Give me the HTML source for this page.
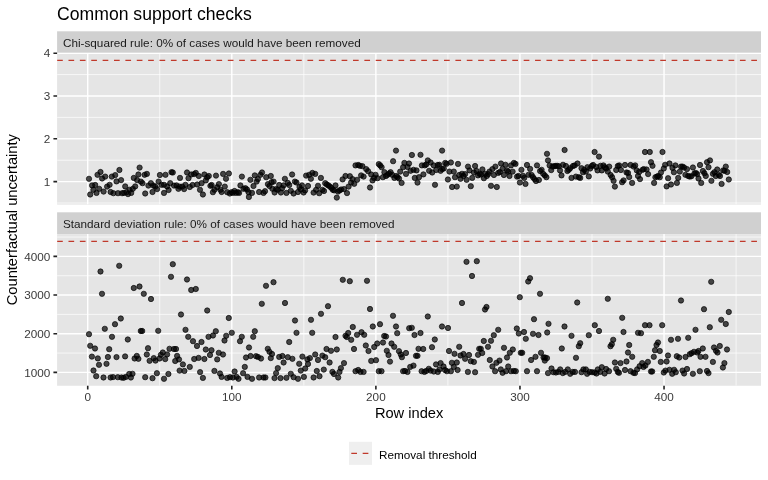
<!DOCTYPE html>
<html lang="en"><head><meta charset="utf-8"><title>Common support checks</title>
<style>html,body{margin:0;padding:0;background:#fff}body{width:768px;height:480px;overflow:hidden}svg{display:block;will-change:transform}text{font-family:"Liberation Sans",Arial,Helvetica,sans-serif}.ax{font-size:11.73px;fill:#3A3A3A}.st{font-size:11.73px;fill:#1A1A1A}.ti{font-size:14.67px;fill:#000}.gM{stroke:#fff;stroke-width:1.42;fill:none}.gm{stroke:#fff;stroke-width:0.71;fill:none}.tk{stroke:#222;stroke-width:1.6;fill:none}.th{stroke:#C0392B;stroke-width:1.35;stroke-dasharray:5.69 5.69;fill:none}.p circle{fill:#000;fill-opacity:0.7;stroke:#000;stroke-opacity:0.7;stroke-width:0.94}</style></head><body>
<svg width="768" height="480" viewBox="0 0 768 480">
<rect width="768" height="480" fill="#fff"/>
<text x="57.1" y="20.3" font-size="17.6" fill="#000">Common support checks</text>
<rect x="57.1" y="31.3" width="703.9" height="21.50" fill="#D0D0D0"/>
<rect x="57.1" y="52.8" width="703.9" height="151.80" fill="#E5E5E5"/>
<clipPath id="c1"><rect x="57.1" y="52.8" width="703.9" height="151.80"/></clipPath>
<g clip-path="url(#c1)">
<path class="gm" d="M57.1 203.00H761.0M57.1 160.20H761.0M57.1 117.40H761.0M57.1 74.60H761.0M159.76 52.8V204.6M303.84 52.8V204.6M447.92 52.8V204.6M592.00 52.8V204.6M736.08 52.8V204.6"/>
<path class="gM" d="M57.1 181.60H761.0M57.1 138.80H761.0M57.1 96.00H761.0M57.1 53.20H761.0M87.72 52.8V204.6M231.80 52.8V204.6M375.88 52.8V204.6M519.96 52.8V204.6M664.04 52.8V204.6"/>
<g class="p">
<circle cx="89.0" cy="178.8" r="2.65"/>
<circle cx="90.2" cy="194.5" r="2.65"/>
<circle cx="92.1" cy="185.4" r="2.65"/>
<circle cx="93.4" cy="189.8" r="2.65"/>
<circle cx="95.2" cy="185.0" r="2.65"/>
<circle cx="96.5" cy="192.9" r="2.65"/>
<circle cx="97.5" cy="174.8" r="2.65"/>
<circle cx="99.2" cy="188.8" r="2.65"/>
<circle cx="100.5" cy="172.0" r="2.65"/>
<circle cx="102.1" cy="178.5" r="2.65"/>
<circle cx="103.6" cy="191.6" r="2.65"/>
<circle cx="105.2" cy="176.6" r="2.65"/>
<circle cx="107.1" cy="186.6" r="2.65"/>
<circle cx="109.6" cy="184.8" r="2.65"/>
<circle cx="110.6" cy="192.0" r="2.65"/>
<circle cx="111.8" cy="176.6" r="2.65"/>
<circle cx="113.4" cy="193.2" r="2.65"/>
<circle cx="115.2" cy="175.1" r="2.65"/>
<circle cx="116.5" cy="181.4" r="2.65"/>
<circle cx="118.0" cy="193.2" r="2.65"/>
<circle cx="119.4" cy="170.0" r="2.65"/>
<circle cx="121.1" cy="180.1" r="2.65"/>
<circle cx="122.1" cy="193.2" r="2.65"/>
<circle cx="124.0" cy="192.9" r="2.65"/>
<circle cx="125.2" cy="186.4" r="2.65"/>
<circle cx="126.5" cy="192.2" r="2.65"/>
<circle cx="128.0" cy="194.1" r="2.65"/>
<circle cx="129.6" cy="189.8" r="2.65"/>
<circle cx="131.2" cy="192.9" r="2.65"/>
<circle cx="132.8" cy="188.8" r="2.65"/>
<circle cx="133.8" cy="177.9" r="2.65"/>
<circle cx="135.2" cy="186.4" r="2.65"/>
<circle cx="137.1" cy="180.1" r="2.65"/>
<circle cx="138.4" cy="174.5" r="2.65"/>
<circle cx="139.6" cy="167.6" r="2.65"/>
<circle cx="140.9" cy="181.6" r="2.65"/>
<circle cx="142.5" cy="183.2" r="2.65"/>
<circle cx="144.6" cy="174.8" r="2.65"/>
<circle cx="145.2" cy="193.5" r="2.65"/>
<circle cx="146.9" cy="173.9" r="2.65"/>
<circle cx="148.4" cy="185.6" r="2.65"/>
<circle cx="150.9" cy="183.2" r="2.65"/>
<circle cx="152.5" cy="192.0" r="2.65"/>
<circle cx="153.4" cy="185.6" r="2.65"/>
<circle cx="155.2" cy="186.6" r="2.65"/>
<circle cx="157.1" cy="189.1" r="2.65"/>
<circle cx="158.6" cy="181.6" r="2.65"/>
<circle cx="159.9" cy="175.0" r="2.65"/>
<circle cx="161.5" cy="184.8" r="2.65"/>
<circle cx="164.0" cy="184.8" r="2.65"/>
<circle cx="164.0" cy="192.9" r="2.65"/>
<circle cx="165.5" cy="174.8" r="2.65"/>
<circle cx="167.1" cy="186.4" r="2.65"/>
<circle cx="168.6" cy="190.0" r="2.65"/>
<circle cx="170.2" cy="183.2" r="2.65"/>
<circle cx="171.5" cy="172.2" r="2.65"/>
<circle cx="172.8" cy="172.5" r="2.65"/>
<circle cx="174.0" cy="185.6" r="2.65"/>
<circle cx="176.5" cy="185.4" r="2.65"/>
<circle cx="178.4" cy="188.8" r="2.65"/>
<circle cx="179.6" cy="186.6" r="2.65"/>
<circle cx="180.0" cy="177.9" r="2.65"/>
<circle cx="182.2" cy="186.6" r="2.65"/>
<circle cx="184.1" cy="189.1" r="2.65"/>
<circle cx="185.4" cy="184.8" r="2.65"/>
<circle cx="187.0" cy="172.5" r="2.65"/>
<circle cx="188.5" cy="178.2" r="2.65"/>
<circle cx="189.8" cy="187.0" r="2.65"/>
<circle cx="191.2" cy="174.5" r="2.65"/>
<circle cx="192.6" cy="185.0" r="2.65"/>
<circle cx="194.1" cy="174.1" r="2.65"/>
<circle cx="195.8" cy="172.9" r="2.65"/>
<circle cx="197.2" cy="184.5" r="2.65"/>
<circle cx="198.8" cy="176.0" r="2.65"/>
<circle cx="200.0" cy="189.8" r="2.65"/>
<circle cx="201.6" cy="183.2" r="2.65"/>
<circle cx="202.9" cy="194.5" r="2.65"/>
<circle cx="204.4" cy="174.5" r="2.65"/>
<circle cx="205.8" cy="180.4" r="2.65"/>
<circle cx="207.2" cy="177.2" r="2.65"/>
<circle cx="208.8" cy="176.0" r="2.65"/>
<circle cx="210.4" cy="185.8" r="2.65"/>
<circle cx="211.6" cy="185.0" r="2.65"/>
<circle cx="212.9" cy="192.2" r="2.65"/>
<circle cx="214.5" cy="189.8" r="2.65"/>
<circle cx="216.0" cy="175.6" r="2.65"/>
<circle cx="217.2" cy="187.2" r="2.65"/>
<circle cx="218.9" cy="184.1" r="2.65"/>
<circle cx="220.4" cy="189.8" r="2.65"/>
<circle cx="221.6" cy="192.0" r="2.65"/>
<circle cx="223.1" cy="173.9" r="2.65"/>
<circle cx="224.8" cy="186.6" r="2.65"/>
<circle cx="226.0" cy="178.8" r="2.65"/>
<circle cx="227.2" cy="192.2" r="2.65"/>
<circle cx="228.9" cy="173.5" r="2.65"/>
<circle cx="229.8" cy="193.5" r="2.65"/>
<circle cx="231.6" cy="192.2" r="2.65"/>
<circle cx="232.9" cy="192.9" r="2.65"/>
<circle cx="234.5" cy="191.0" r="2.65"/>
<circle cx="236.0" cy="192.9" r="2.65"/>
<circle cx="237.9" cy="192.2" r="2.65"/>
<circle cx="239.1" cy="192.9" r="2.65"/>
<circle cx="240.4" cy="185.4" r="2.65"/>
<circle cx="241.9" cy="176.6" r="2.65"/>
<circle cx="243.5" cy="188.8" r="2.65"/>
<circle cx="245.4" cy="188.2" r="2.65"/>
<circle cx="247.0" cy="189.5" r="2.65"/>
<circle cx="248.5" cy="192.2" r="2.65"/>
<circle cx="248.9" cy="197.0" r="2.65"/>
<circle cx="250.4" cy="179.8" r="2.65"/>
<circle cx="252.0" cy="192.9" r="2.65"/>
<circle cx="253.5" cy="186.0" r="2.65"/>
<circle cx="254.8" cy="175.4" r="2.65"/>
<circle cx="256.6" cy="181.6" r="2.65"/>
<circle cx="257.9" cy="179.1" r="2.65"/>
<circle cx="259.1" cy="192.0" r="2.65"/>
<circle cx="260.4" cy="174.8" r="2.65"/>
<circle cx="262.0" cy="172.5" r="2.65"/>
<circle cx="263.5" cy="192.9" r="2.65"/>
<circle cx="265.0" cy="191.2" r="2.65"/>
<circle cx="266.2" cy="177.2" r="2.65"/>
<circle cx="267.9" cy="184.1" r="2.65"/>
<circle cx="269.5" cy="186.0" r="2.65"/>
<circle cx="270.8" cy="176.0" r="2.65"/>
<circle cx="271.6" cy="182.2" r="2.65"/>
<circle cx="272.4" cy="188.8" r="2.65"/>
<circle cx="273.6" cy="181.6" r="2.65"/>
<circle cx="274.6" cy="192.5" r="2.65"/>
<circle cx="276.1" cy="189.1" r="2.65"/>
<circle cx="277.8" cy="189.8" r="2.65"/>
<circle cx="279.2" cy="185.0" r="2.65"/>
<circle cx="280.9" cy="192.5" r="2.65"/>
<circle cx="282.1" cy="188.2" r="2.65"/>
<circle cx="283.6" cy="185.4" r="2.65"/>
<circle cx="284.9" cy="178.8" r="2.65"/>
<circle cx="286.4" cy="192.9" r="2.65"/>
<circle cx="287.8" cy="182.9" r="2.65"/>
<circle cx="289.2" cy="185.0" r="2.65"/>
<circle cx="290.8" cy="190.8" r="2.65"/>
<circle cx="292.1" cy="174.5" r="2.65"/>
<circle cx="293.6" cy="193.5" r="2.65"/>
<circle cx="294.9" cy="181.6" r="2.65"/>
<circle cx="296.5" cy="182.5" r="2.65"/>
<circle cx="298.0" cy="192.0" r="2.65"/>
<circle cx="299.5" cy="187.0" r="2.65"/>
<circle cx="300.8" cy="189.5" r="2.65"/>
<circle cx="302.0" cy="185.4" r="2.65"/>
<circle cx="303.6" cy="192.5" r="2.65"/>
<circle cx="305.1" cy="190.4" r="2.65"/>
<circle cx="306.1" cy="175.6" r="2.65"/>
<circle cx="308.0" cy="186.0" r="2.65"/>
<circle cx="309.2" cy="174.8" r="2.65"/>
<circle cx="310.9" cy="178.8" r="2.65"/>
<circle cx="312.4" cy="172.9" r="2.65"/>
<circle cx="313.6" cy="192.6" r="2.65"/>
<circle cx="315.2" cy="173.9" r="2.65"/>
<circle cx="316.1" cy="189.8" r="2.65"/>
<circle cx="318.0" cy="185.8" r="2.65"/>
<circle cx="319.2" cy="193.2" r="2.65"/>
<circle cx="320.9" cy="177.9" r="2.65"/>
<circle cx="322.4" cy="189.8" r="2.65"/>
<circle cx="324.0" cy="191.0" r="2.65"/>
<circle cx="325.2" cy="183.2" r="2.65"/>
<circle cx="326.8" cy="184.5" r="2.65"/>
<circle cx="328.4" cy="185.4" r="2.65"/>
<circle cx="329.9" cy="186.6" r="2.65"/>
<circle cx="331.4" cy="187.9" r="2.65"/>
<circle cx="332.8" cy="189.8" r="2.65"/>
<circle cx="334.2" cy="190.4" r="2.65"/>
<circle cx="335.5" cy="185.4" r="2.65"/>
<circle cx="336.8" cy="197.6" r="2.65"/>
<circle cx="338.0" cy="191.6" r="2.65"/>
<circle cx="339.5" cy="190.4" r="2.65"/>
<circle cx="341.1" cy="189.5" r="2.65"/>
<circle cx="342.6" cy="179.4" r="2.65"/>
<circle cx="344.0" cy="189.1" r="2.65"/>
<circle cx="345.5" cy="176.0" r="2.65"/>
<circle cx="347.0" cy="193.1" r="2.65"/>
<circle cx="348.6" cy="186.6" r="2.65"/>
<circle cx="349.9" cy="176.2" r="2.65"/>
<circle cx="351.1" cy="182.5" r="2.65"/>
<circle cx="352.6" cy="179.1" r="2.65"/>
<circle cx="354.2" cy="183.8" r="2.65"/>
<circle cx="355.5" cy="165.4" r="2.65"/>
<circle cx="357.1" cy="179.8" r="2.65"/>
<circle cx="358.2" cy="165.0" r="2.65"/>
<circle cx="359.9" cy="165.8" r="2.65"/>
<circle cx="361.1" cy="175.4" r="2.65"/>
<circle cx="362.4" cy="166.2" r="2.65"/>
<circle cx="363.6" cy="176.6" r="2.65"/>
<circle cx="366.2" cy="169.1" r="2.65"/>
<circle cx="368.1" cy="171.2" r="2.65"/>
<circle cx="370.0" cy="187.5" r="2.65"/>
<circle cx="371.2" cy="174.5" r="2.65"/>
<circle cx="372.5" cy="180.4" r="2.65"/>
<circle cx="374.0" cy="177.9" r="2.65"/>
<circle cx="375.6" cy="174.8" r="2.65"/>
<circle cx="377.5" cy="178.2" r="2.65"/>
<circle cx="378.8" cy="164.1" r="2.65"/>
<circle cx="380.2" cy="165.4" r="2.65"/>
<circle cx="381.6" cy="167.2" r="2.65"/>
<circle cx="382.9" cy="177.2" r="2.65"/>
<circle cx="384.4" cy="172.2" r="2.65"/>
<circle cx="386.0" cy="176.0" r="2.65"/>
<circle cx="387.5" cy="174.8" r="2.65"/>
<circle cx="389.1" cy="173.5" r="2.65"/>
<circle cx="390.6" cy="172.2" r="2.65"/>
<circle cx="392.2" cy="174.8" r="2.65"/>
<circle cx="393.1" cy="161.2" r="2.65"/>
<circle cx="394.4" cy="177.9" r="2.65"/>
<circle cx="396.2" cy="176.0" r="2.65"/>
<circle cx="397.5" cy="177.2" r="2.65"/>
<circle cx="399.0" cy="178.5" r="2.65"/>
<circle cx="400.2" cy="171.6" r="2.65"/>
<circle cx="401.6" cy="182.9" r="2.65"/>
<circle cx="403.1" cy="167.2" r="2.65"/>
<circle cx="404.4" cy="162.9" r="2.65"/>
<circle cx="406.0" cy="173.9" r="2.65"/>
<circle cx="407.5" cy="167.0" r="2.65"/>
<circle cx="409.0" cy="163.5" r="2.65"/>
<circle cx="410.6" cy="170.8" r="2.65"/>
<circle cx="413.5" cy="169.8" r="2.65"/>
<circle cx="414.8" cy="177.9" r="2.65"/>
<circle cx="416.5" cy="170.4" r="2.65"/>
<circle cx="417.5" cy="182.6" r="2.65"/>
<circle cx="419.0" cy="177.2" r="2.65"/>
<circle cx="421.9" cy="165.4" r="2.65"/>
<circle cx="423.4" cy="174.4" r="2.65"/>
<circle cx="424.8" cy="165.4" r="2.65"/>
<circle cx="426.2" cy="164.5" r="2.65"/>
<circle cx="427.8" cy="160.4" r="2.65"/>
<circle cx="429.1" cy="170.8" r="2.65"/>
<circle cx="430.6" cy="162.5" r="2.65"/>
<circle cx="432.2" cy="172.5" r="2.65"/>
<circle cx="433.8" cy="165.4" r="2.65"/>
<circle cx="435.0" cy="184.8" r="2.65"/>
<circle cx="436.2" cy="170.0" r="2.65"/>
<circle cx="437.8" cy="165.0" r="2.65"/>
<circle cx="439.4" cy="164.8" r="2.65"/>
<circle cx="440.6" cy="170.8" r="2.65"/>
<circle cx="442.2" cy="169.1" r="2.65"/>
<circle cx="443.8" cy="168.5" r="2.65"/>
<circle cx="445.2" cy="162.9" r="2.65"/>
<circle cx="446.6" cy="163.8" r="2.65"/>
<circle cx="447.9" cy="179.5" r="2.65"/>
<circle cx="449.4" cy="171.6" r="2.65"/>
<circle cx="450.9" cy="162.5" r="2.65"/>
<circle cx="452.1" cy="187.0" r="2.65"/>
<circle cx="453.8" cy="171.6" r="2.65"/>
<circle cx="455.0" cy="177.2" r="2.65"/>
<circle cx="396.0" cy="150.6" r="2.65"/>
<circle cx="411.9" cy="155.0" r="2.65"/>
<circle cx="420.5" cy="154.8" r="2.65"/>
<circle cx="442.1" cy="150.6" r="2.65"/>
<circle cx="456.8" cy="186.6" r="2.65"/>
<circle cx="458.0" cy="163.9" r="2.65"/>
<circle cx="459.2" cy="175.0" r="2.65"/>
<circle cx="460.5" cy="178.8" r="2.65"/>
<circle cx="462.0" cy="173.8" r="2.65"/>
<circle cx="463.5" cy="176.0" r="2.65"/>
<circle cx="465.1" cy="174.1" r="2.65"/>
<circle cx="466.6" cy="179.8" r="2.65"/>
<circle cx="468.0" cy="166.6" r="2.65"/>
<circle cx="469.5" cy="170.4" r="2.65"/>
<circle cx="470.8" cy="186.2" r="2.65"/>
<circle cx="472.2" cy="177.9" r="2.65"/>
<circle cx="473.9" cy="172.5" r="2.65"/>
<circle cx="475.1" cy="166.0" r="2.65"/>
<circle cx="476.6" cy="171.0" r="2.65"/>
<circle cx="478.0" cy="175.4" r="2.65"/>
<circle cx="479.5" cy="173.8" r="2.65"/>
<circle cx="481.0" cy="174.5" r="2.65"/>
<circle cx="482.4" cy="169.4" r="2.65"/>
<circle cx="483.9" cy="178.2" r="2.65"/>
<circle cx="485.1" cy="173.8" r="2.65"/>
<circle cx="486.8" cy="176.0" r="2.65"/>
<circle cx="488.2" cy="174.1" r="2.65"/>
<circle cx="489.5" cy="171.6" r="2.65"/>
<circle cx="491.0" cy="185.8" r="2.65"/>
<circle cx="492.4" cy="169.1" r="2.65"/>
<circle cx="493.9" cy="175.0" r="2.65"/>
<circle cx="495.4" cy="166.6" r="2.65"/>
<circle cx="496.8" cy="187.0" r="2.65"/>
<circle cx="498.2" cy="172.9" r="2.65"/>
<circle cx="499.8" cy="172.0" r="2.65"/>
<circle cx="501.0" cy="163.5" r="2.65"/>
<circle cx="502.6" cy="168.8" r="2.65"/>
<circle cx="503.9" cy="175.0" r="2.65"/>
<circle cx="505.5" cy="164.8" r="2.65"/>
<circle cx="507.0" cy="170.4" r="2.65"/>
<circle cx="508.2" cy="171.6" r="2.65"/>
<circle cx="509.5" cy="176.0" r="2.65"/>
<circle cx="511.0" cy="165.4" r="2.65"/>
<circle cx="512.6" cy="171.6" r="2.65"/>
<circle cx="513.9" cy="162.9" r="2.65"/>
<circle cx="515.5" cy="163.9" r="2.65"/>
<circle cx="517.0" cy="176.6" r="2.65"/>
<circle cx="518.5" cy="176.0" r="2.65"/>
<circle cx="519.9" cy="182.5" r="2.65"/>
<circle cx="521.4" cy="169.8" r="2.65"/>
<circle cx="523.0" cy="175.8" r="2.65"/>
<circle cx="524.2" cy="177.9" r="2.65"/>
<circle cx="525.5" cy="183.9" r="2.65"/>
<circle cx="527.0" cy="165.0" r="2.65"/>
<circle cx="528.5" cy="174.8" r="2.65"/>
<circle cx="530.1" cy="168.9" r="2.65"/>
<circle cx="531.6" cy="175.0" r="2.65"/>
<circle cx="533.0" cy="177.2" r="2.65"/>
<circle cx="534.5" cy="179.1" r="2.65"/>
<circle cx="536.0" cy="181.0" r="2.65"/>
<circle cx="537.0" cy="165.4" r="2.65"/>
<circle cx="538.9" cy="180.0" r="2.65"/>
<circle cx="540.1" cy="171.0" r="2.65"/>
<circle cx="541.6" cy="169.8" r="2.65"/>
<circle cx="543.2" cy="173.8" r="2.65"/>
<circle cx="544.8" cy="175.4" r="2.65"/>
<circle cx="546.4" cy="177.2" r="2.65"/>
<circle cx="547.0" cy="153.8" r="2.65"/>
<circle cx="548.0" cy="160.4" r="2.65"/>
<circle cx="549.6" cy="165.4" r="2.65"/>
<circle cx="551.2" cy="170.1" r="2.65"/>
<circle cx="552.5" cy="166.6" r="2.65"/>
<circle cx="554.0" cy="166.2" r="2.65"/>
<circle cx="555.5" cy="166.0" r="2.65"/>
<circle cx="557.1" cy="165.8" r="2.65"/>
<circle cx="558.8" cy="166.2" r="2.65"/>
<circle cx="560.0" cy="170.4" r="2.65"/>
<circle cx="561.5" cy="175.4" r="2.65"/>
<circle cx="563.0" cy="164.8" r="2.65"/>
<circle cx="564.6" cy="150.0" r="2.65"/>
<circle cx="565.9" cy="166.0" r="2.65"/>
<circle cx="567.4" cy="171.0" r="2.65"/>
<circle cx="568.8" cy="169.8" r="2.65"/>
<circle cx="570.2" cy="168.2" r="2.65"/>
<circle cx="571.5" cy="177.9" r="2.65"/>
<circle cx="573.0" cy="166.0" r="2.65"/>
<circle cx="574.6" cy="165.4" r="2.65"/>
<circle cx="575.9" cy="176.6" r="2.65"/>
<circle cx="577.5" cy="163.5" r="2.65"/>
<circle cx="578.8" cy="177.2" r="2.65"/>
<circle cx="580.2" cy="177.9" r="2.65"/>
<circle cx="581.5" cy="168.2" r="2.65"/>
<circle cx="583.0" cy="172.2" r="2.65"/>
<circle cx="584.2" cy="169.8" r="2.65"/>
<circle cx="585.9" cy="171.6" r="2.65"/>
<circle cx="587.4" cy="167.2" r="2.65"/>
<circle cx="588.8" cy="176.4" r="2.65"/>
<circle cx="590.2" cy="168.5" r="2.65"/>
<circle cx="591.8" cy="166.0" r="2.65"/>
<circle cx="593.1" cy="165.0" r="2.65"/>
<circle cx="594.6" cy="152.0" r="2.65"/>
<circle cx="596.2" cy="167.0" r="2.65"/>
<circle cx="597.5" cy="170.4" r="2.65"/>
<circle cx="599.0" cy="156.6" r="2.65"/>
<circle cx="600.5" cy="165.8" r="2.65"/>
<circle cx="601.8" cy="170.4" r="2.65"/>
<circle cx="603.4" cy="165.4" r="2.65"/>
<circle cx="604.9" cy="167.2" r="2.65"/>
<circle cx="606.2" cy="168.5" r="2.65"/>
<circle cx="607.8" cy="171.6" r="2.65"/>
<circle cx="609.2" cy="166.6" r="2.65"/>
<circle cx="610.6" cy="175.0" r="2.65"/>
<circle cx="612.1" cy="177.2" r="2.65"/>
<circle cx="613.6" cy="180.8" r="2.65"/>
<circle cx="614.9" cy="186.6" r="2.65"/>
<circle cx="616.2" cy="170.0" r="2.65"/>
<circle cx="617.8" cy="166.0" r="2.65"/>
<circle cx="619.2" cy="165.4" r="2.65"/>
<circle cx="620.9" cy="170.0" r="2.65"/>
<circle cx="622.1" cy="182.2" r="2.65"/>
<circle cx="623.6" cy="180.4" r="2.65"/>
<circle cx="625.0" cy="165.0" r="2.65"/>
<circle cx="626.5" cy="172.5" r="2.65"/>
<circle cx="628.0" cy="172.9" r="2.65"/>
<circle cx="629.2" cy="177.0" r="2.65"/>
<circle cx="630.6" cy="165.0" r="2.65"/>
<circle cx="632.1" cy="182.9" r="2.65"/>
<circle cx="633.6" cy="166.6" r="2.65"/>
<circle cx="635.2" cy="165.4" r="2.65"/>
<circle cx="636.8" cy="170.4" r="2.65"/>
<circle cx="638.0" cy="176.0" r="2.65"/>
<circle cx="639.2" cy="172.0" r="2.65"/>
<circle cx="640.0" cy="179.1" r="2.65"/>
<circle cx="642.5" cy="169.8" r="2.65"/>
<circle cx="643.8" cy="169.1" r="2.65"/>
<circle cx="645.0" cy="152.0" r="2.65"/>
<circle cx="646.6" cy="169.5" r="2.65"/>
<circle cx="648.1" cy="174.1" r="2.65"/>
<circle cx="649.8" cy="152.0" r="2.65"/>
<circle cx="651.0" cy="162.2" r="2.65"/>
<circle cx="652.5" cy="165.8" r="2.65"/>
<circle cx="654.1" cy="182.9" r="2.65"/>
<circle cx="655.4" cy="177.2" r="2.65"/>
<circle cx="657.0" cy="176.6" r="2.65"/>
<circle cx="658.2" cy="176.0" r="2.65"/>
<circle cx="659.8" cy="177.2" r="2.65"/>
<circle cx="661.0" cy="172.5" r="2.65"/>
<circle cx="662.5" cy="152.0" r="2.65"/>
<circle cx="663.8" cy="168.5" r="2.65"/>
<circle cx="665.1" cy="164.8" r="2.65"/>
<circle cx="666.6" cy="186.4" r="2.65"/>
<circle cx="668.1" cy="178.2" r="2.65"/>
<circle cx="669.5" cy="163.5" r="2.65"/>
<circle cx="671.0" cy="184.5" r="2.65"/>
<circle cx="672.5" cy="167.9" r="2.65"/>
<circle cx="673.9" cy="172.2" r="2.65"/>
<circle cx="675.4" cy="165.4" r="2.65"/>
<circle cx="676.9" cy="182.9" r="2.65"/>
<circle cx="678.2" cy="177.9" r="2.65"/>
<circle cx="679.8" cy="171.6" r="2.65"/>
<circle cx="681.0" cy="166.6" r="2.65"/>
<circle cx="682.5" cy="166.6" r="2.65"/>
<circle cx="684.1" cy="167.5" r="2.65"/>
<circle cx="685.4" cy="174.8" r="2.65"/>
<circle cx="687.0" cy="169.1" r="2.65"/>
<circle cx="688.2" cy="176.0" r="2.65"/>
<circle cx="689.8" cy="176.6" r="2.65"/>
<circle cx="691.4" cy="176.2" r="2.65"/>
<circle cx="692.9" cy="167.5" r="2.65"/>
<circle cx="694.4" cy="173.5" r="2.65"/>
<circle cx="695.8" cy="172.9" r="2.65"/>
<circle cx="697.2" cy="174.1" r="2.65"/>
<circle cx="698.5" cy="178.5" r="2.65"/>
<circle cx="700.0" cy="165.0" r="2.65"/>
<circle cx="701.2" cy="182.9" r="2.65"/>
<circle cx="702.9" cy="171.0" r="2.65"/>
<circle cx="704.4" cy="173.2" r="2.65"/>
<circle cx="705.8" cy="176.0" r="2.65"/>
<circle cx="707.0" cy="162.2" r="2.65"/>
<circle cx="708.5" cy="167.2" r="2.65"/>
<circle cx="710.0" cy="160.4" r="2.65"/>
<circle cx="711.4" cy="180.8" r="2.65"/>
<circle cx="712.9" cy="173.8" r="2.65"/>
<circle cx="714.4" cy="172.2" r="2.65"/>
<circle cx="715.8" cy="176.0" r="2.65"/>
<circle cx="717.2" cy="169.5" r="2.65"/>
<circle cx="718.8" cy="174.8" r="2.65"/>
<circle cx="720.0" cy="176.0" r="2.65"/>
<circle cx="721.6" cy="183.9" r="2.65"/>
<circle cx="723.1" cy="170.4" r="2.65"/>
<circle cx="724.5" cy="170.8" r="2.65"/>
<circle cx="725.8" cy="166.6" r="2.65"/>
<circle cx="727.2" cy="172.0" r="2.65"/>
<circle cx="728.8" cy="179.5" r="2.65"/>
</g>
<path class="th" d="M57.1 60.30H761.0"/>
</g>
<text class="st" x="63.0" y="46.70">Chi-squared rule: 0% of cases would have been removed</text>
<text class="ax" x="50.3" y="185.8" text-anchor="end">1</text>
<text class="ax" x="50.3" y="143.0" text-anchor="end">2</text>
<text class="ax" x="50.3" y="100.2" text-anchor="end">3</text>
<text class="ax" x="50.3" y="57.4" text-anchor="end">4</text>
<path class="tk" d="M53.43 181.60H57.1M53.43 138.80H57.1M53.43 96.00H57.1M53.43 53.20H57.1"/>
<rect x="57.1" y="212.3" width="703.9" height="21.80" fill="#D0D0D0"/>
<rect x="57.1" y="234.1" width="703.9" height="151.65" fill="#E5E5E5"/>
<clipPath id="c2"><rect x="57.1" y="234.1" width="703.9" height="151.65"/></clipPath>
<g clip-path="url(#c2)">
<path class="gm" d="M57.1 353.07H761.0M57.1 314.40H761.0M57.1 275.73H761.0M57.1 237.07H761.0M159.76 234.1V385.75M303.84 234.1V385.75M447.92 234.1V385.75M592.00 234.1V385.75M736.08 234.1V385.75"/>
<path class="gM" d="M57.1 372.40H761.0M57.1 333.73H761.0M57.1 295.07H761.0M57.1 256.40H761.0M87.72 234.1V385.75M231.80 234.1V385.75M375.88 234.1V385.75M519.96 234.1V385.75M664.04 234.1V385.75"/>
<g class="p">
<circle cx="100.5" cy="271.5" r="2.65"/>
<circle cx="119.2" cy="265.8" r="2.65"/>
<circle cx="102.0" cy="293.8" r="2.65"/>
<circle cx="133.8" cy="288.0" r="2.65"/>
<circle cx="139.5" cy="286.5" r="2.65"/>
<circle cx="143.8" cy="293.8" r="2.65"/>
<circle cx="151.0" cy="299.0" r="2.65"/>
<circle cx="172.8" cy="264.2" r="2.65"/>
<circle cx="171.0" cy="276.8" r="2.65"/>
<circle cx="187.0" cy="279.5" r="2.65"/>
<circle cx="191.2" cy="290.0" r="2.65"/>
<circle cx="195.8" cy="289.0" r="2.65"/>
<circle cx="207.2" cy="310.5" r="2.65"/>
<circle cx="181.0" cy="314.5" r="2.65"/>
<circle cx="228.8" cy="318.0" r="2.65"/>
<circle cx="120.8" cy="318.5" r="2.65"/>
<circle cx="115.0" cy="324.2" r="2.65"/>
<circle cx="104.8" cy="328.8" r="2.65"/>
<circle cx="89.0" cy="334.2" r="2.65"/>
<circle cx="112.0" cy="336.8" r="2.65"/>
<circle cx="127.8" cy="339.5" r="2.65"/>
<circle cx="140.8" cy="331.0" r="2.65"/>
<circle cx="142.2" cy="331.0" r="2.65"/>
<circle cx="158.2" cy="330.8" r="2.65"/>
<circle cx="185.5" cy="329.8" r="2.65"/>
<circle cx="188.2" cy="336.8" r="2.65"/>
<circle cx="193.0" cy="341.2" r="2.65"/>
<circle cx="197.0" cy="346.0" r="2.65"/>
<circle cx="201.5" cy="342.0" r="2.65"/>
<circle cx="208.5" cy="336.8" r="2.65"/>
<circle cx="213.0" cy="335.5" r="2.65"/>
<circle cx="215.8" cy="331.2" r="2.65"/>
<circle cx="226.2" cy="335.8" r="2.65"/>
<circle cx="224.5" cy="340.5" r="2.65"/>
<circle cx="231.8" cy="332.8" r="2.65"/>
<circle cx="241.8" cy="336.8" r="2.65"/>
<circle cx="240.0" cy="341.2" r="2.65"/>
<circle cx="254.8" cy="331.2" r="2.65"/>
<circle cx="253.2" cy="336.8" r="2.65"/>
<circle cx="249.0" cy="347.5" r="2.65"/>
<circle cx="261.8" cy="303.8" r="2.65"/>
<circle cx="266.0" cy="285.8" r="2.65"/>
<circle cx="90.2" cy="345.8" r="2.65"/>
<circle cx="95.0" cy="348.5" r="2.65"/>
<circle cx="109.2" cy="349.2" r="2.65"/>
<circle cx="148.0" cy="348.2" r="2.65"/>
<circle cx="169.5" cy="348.8" r="2.65"/>
<circle cx="174.0" cy="349.0" r="2.65"/>
<circle cx="205.8" cy="349.5" r="2.65"/>
<circle cx="211.5" cy="350.2" r="2.65"/>
<circle cx="218.8" cy="352.8" r="2.65"/>
<circle cx="223.0" cy="354.5" r="2.65"/>
<circle cx="267.8" cy="348.8" r="2.65"/>
<circle cx="273.5" cy="282.2" r="2.65"/>
<circle cx="285.0" cy="303.0" r="2.65"/>
<circle cx="342.8" cy="279.8" r="2.65"/>
<circle cx="349.8" cy="281.2" r="2.65"/>
<circle cx="367.0" cy="280.8" r="2.65"/>
<circle cx="328.0" cy="306.2" r="2.65"/>
<circle cx="321.0" cy="313.8" r="2.65"/>
<circle cx="370.0" cy="309.0" r="2.65"/>
<circle cx="295.0" cy="320.5" r="2.65"/>
<circle cx="311.0" cy="319.8" r="2.65"/>
<circle cx="393.0" cy="315.8" r="2.65"/>
<circle cx="427.8" cy="316.5" r="2.65"/>
<circle cx="296.5" cy="332.8" r="2.65"/>
<circle cx="312.2" cy="332.8" r="2.65"/>
<circle cx="352.8" cy="327.0" r="2.65"/>
<circle cx="372.8" cy="326.5" r="2.65"/>
<circle cx="380.0" cy="324.2" r="2.65"/>
<circle cx="396.0" cy="326.5" r="2.65"/>
<circle cx="409.2" cy="328.2" r="2.65"/>
<circle cx="411.8" cy="327.8" r="2.65"/>
<circle cx="442.0" cy="326.5" r="2.65"/>
<circle cx="448.0" cy="328.0" r="2.65"/>
<circle cx="289.2" cy="342.0" r="2.65"/>
<circle cx="335.5" cy="337.0" r="2.65"/>
<circle cx="345.5" cy="335.8" r="2.65"/>
<circle cx="348.2" cy="333.0" r="2.65"/>
<circle cx="346.8" cy="337.0" r="2.65"/>
<circle cx="351.2" cy="339.8" r="2.65"/>
<circle cx="357.0" cy="334.8" r="2.65"/>
<circle cx="361.5" cy="332.2" r="2.65"/>
<circle cx="364.2" cy="334.8" r="2.65"/>
<circle cx="397.2" cy="333.2" r="2.65"/>
<circle cx="384.2" cy="336.0" r="2.65"/>
<circle cx="386.0" cy="336.5" r="2.65"/>
<circle cx="414.5" cy="335.0" r="2.65"/>
<circle cx="420.5" cy="333.0" r="2.65"/>
<circle cx="434.8" cy="339.5" r="2.65"/>
<circle cx="365.8" cy="345.5" r="2.65"/>
<circle cx="374.2" cy="347.0" r="2.65"/>
<circle cx="377.2" cy="343.5" r="2.65"/>
<circle cx="383.0" cy="342.5" r="2.65"/>
<circle cx="391.5" cy="343.5" r="2.65"/>
<circle cx="394.2" cy="346.8" r="2.65"/>
<circle cx="354.0" cy="349.0" r="2.65"/>
<circle cx="326.5" cy="349.0" r="2.65"/>
<circle cx="331.0" cy="350.8" r="2.65"/>
<circle cx="336.8" cy="349.5" r="2.65"/>
<circle cx="269.5" cy="351.8" r="2.65"/>
<circle cx="272.0" cy="354.0" r="2.65"/>
<circle cx="368.5" cy="351.0" r="2.65"/>
<circle cx="386.8" cy="350.8" r="2.65"/>
<circle cx="399.0" cy="351.2" r="2.65"/>
<circle cx="418.5" cy="348.8" r="2.65"/>
<circle cx="423.2" cy="349.0" r="2.65"/>
<circle cx="432.0" cy="347.2" r="2.65"/>
<circle cx="449.0" cy="351.0" r="2.65"/>
<circle cx="406.0" cy="353.0" r="2.65"/>
<circle cx="315.2" cy="354.5" r="2.65"/>
<circle cx="388.5" cy="355.0" r="2.65"/>
<circle cx="400.8" cy="354.5" r="2.65"/>
<circle cx="416.0" cy="355.8" r="2.65"/>
<circle cx="417.5" cy="355.8" r="2.65"/>
<circle cx="454.5" cy="353.8" r="2.65"/>
<circle cx="466.5" cy="261.8" r="2.65"/>
<circle cx="476.8" cy="261.2" r="2.65"/>
<circle cx="472.0" cy="276.0" r="2.65"/>
<circle cx="462.0" cy="303.0" r="2.65"/>
<circle cx="486.5" cy="307.0" r="2.65"/>
<circle cx="485.0" cy="309.5" r="2.65"/>
<circle cx="530.0" cy="278.2" r="2.65"/>
<circle cx="528.2" cy="281.5" r="2.65"/>
<circle cx="540.0" cy="293.8" r="2.65"/>
<circle cx="519.8" cy="297.2" r="2.65"/>
<circle cx="577.2" cy="302.5" r="2.65"/>
<circle cx="607.8" cy="298.8" r="2.65"/>
<circle cx="534.0" cy="319.2" r="2.65"/>
<circle cx="622.2" cy="317.8" r="2.65"/>
<circle cx="498.2" cy="329.8" r="2.65"/>
<circle cx="516.8" cy="328.5" r="2.65"/>
<circle cx="548.5" cy="323.8" r="2.65"/>
<circle cx="564.5" cy="326.5" r="2.65"/>
<circle cx="594.8" cy="325.2" r="2.65"/>
<circle cx="599.0" cy="331.0" r="2.65"/>
<circle cx="518.8" cy="333.5" r="2.65"/>
<circle cx="524.0" cy="332.0" r="2.65"/>
<circle cx="533.0" cy="333.8" r="2.65"/>
<circle cx="538.5" cy="335.0" r="2.65"/>
<circle cx="547.2" cy="332.5" r="2.65"/>
<circle cx="571.5" cy="335.8" r="2.65"/>
<circle cx="588.8" cy="335.2" r="2.65"/>
<circle cx="623.5" cy="332.0" r="2.65"/>
<circle cx="638.0" cy="332.8" r="2.65"/>
<circle cx="641.0" cy="333.2" r="2.65"/>
<circle cx="493.8" cy="335.2" r="2.65"/>
<circle cx="525.8" cy="338.8" r="2.65"/>
<circle cx="491.0" cy="340.8" r="2.65"/>
<circle cx="483.8" cy="341.0" r="2.65"/>
<circle cx="613.2" cy="339.8" r="2.65"/>
<circle cx="459.2" cy="346.8" r="2.65"/>
<circle cx="488.0" cy="346.8" r="2.65"/>
<circle cx="504.0" cy="347.8" r="2.65"/>
<circle cx="512.8" cy="349.5" r="2.65"/>
<circle cx="479.2" cy="348.8" r="2.65"/>
<circle cx="480.8" cy="348.8" r="2.65"/>
<circle cx="561.8" cy="348.5" r="2.65"/>
<circle cx="580.2" cy="343.2" r="2.65"/>
<circle cx="578.8" cy="346.2" r="2.65"/>
<circle cx="611.8" cy="344.2" r="2.65"/>
<circle cx="610.5" cy="346.2" r="2.65"/>
<circle cx="629.2" cy="345.0" r="2.65"/>
<circle cx="463.5" cy="354.0" r="2.65"/>
<circle cx="460.5" cy="355.5" r="2.65"/>
<circle cx="469.0" cy="355.0" r="2.65"/>
<circle cx="478.0" cy="354.8" r="2.65"/>
<circle cx="482.2" cy="353.0" r="2.65"/>
<circle cx="509.8" cy="352.8" r="2.65"/>
<circle cx="520.8" cy="352.8" r="2.65"/>
<circle cx="522.2" cy="352.8" r="2.65"/>
<circle cx="541.0" cy="352.8" r="2.65"/>
<circle cx="628.0" cy="352.5" r="2.65"/>
<circle cx="535.5" cy="356.8" r="2.65"/>
<circle cx="507.0" cy="357.5" r="2.65"/>
<circle cx="576.0" cy="357.8" r="2.65"/>
<circle cx="632.2" cy="356.8" r="2.65"/>
<circle cx="543.5" cy="357.5" r="2.65"/>
<circle cx="545.0" cy="357.5" r="2.65"/>
<circle cx="711.2" cy="281.8" r="2.65"/>
<circle cx="681.0" cy="300.5" r="2.65"/>
<circle cx="704.0" cy="309.2" r="2.65"/>
<circle cx="728.8" cy="312.0" r="2.65"/>
<circle cx="721.2" cy="319.8" r="2.65"/>
<circle cx="725.8" cy="324.0" r="2.65"/>
<circle cx="645.0" cy="325.2" r="2.65"/>
<circle cx="649.5" cy="325.2" r="2.65"/>
<circle cx="662.2" cy="325.2" r="2.65"/>
<circle cx="709.8" cy="327.2" r="2.65"/>
<circle cx="695.5" cy="329.8" r="2.65"/>
<circle cx="671.0" cy="339.8" r="2.65"/>
<circle cx="678.0" cy="338.8" r="2.65"/>
<circle cx="688.2" cy="337.8" r="2.65"/>
<circle cx="658.0" cy="342.5" r="2.65"/>
<circle cx="656.5" cy="345.0" r="2.65"/>
<circle cx="655.0" cy="350.2" r="2.65"/>
<circle cx="659.8" cy="351.0" r="2.65"/>
<circle cx="653.8" cy="356.8" r="2.65"/>
<circle cx="668.0" cy="355.5" r="2.65"/>
<circle cx="676.8" cy="356.2" r="2.65"/>
<circle cx="679.2" cy="357.5" r="2.65"/>
<circle cx="685.5" cy="357.0" r="2.65"/>
<circle cx="689.8" cy="354.2" r="2.65"/>
<circle cx="691.5" cy="353.2" r="2.65"/>
<circle cx="694.0" cy="351.8" r="2.65"/>
<circle cx="697.2" cy="352.5" r="2.65"/>
<circle cx="698.5" cy="351.0" r="2.65"/>
<circle cx="702.8" cy="348.5" r="2.65"/>
<circle cx="700.5" cy="356.8" r="2.65"/>
<circle cx="705.5" cy="356.8" r="2.65"/>
<circle cx="714.0" cy="347.5" r="2.65"/>
<circle cx="719.8" cy="346.0" r="2.65"/>
<circle cx="716.0" cy="350.8" r="2.65"/>
<circle cx="717.5" cy="352.5" r="2.65"/>
<circle cx="727.0" cy="349.5" r="2.65"/>
<circle cx="91.9" cy="356.6" r="2.65"/>
<circle cx="97.8" cy="358.4" r="2.65"/>
<circle cx="107.9" cy="357.0" r="2.65"/>
<circle cx="116.5" cy="357.1" r="2.65"/>
<circle cx="125.1" cy="356.4" r="2.65"/>
<circle cx="99.0" cy="364.8" r="2.65"/>
<circle cx="106.5" cy="363.8" r="2.65"/>
<circle cx="93.5" cy="370.5" r="2.65"/>
<circle cx="96.2" cy="376.2" r="2.65"/>
<circle cx="103.5" cy="377.5" r="2.65"/>
<circle cx="110.6" cy="377.5" r="2.65"/>
<circle cx="113.0" cy="377.1" r="2.65"/>
<circle cx="117.8" cy="377.2" r="2.65"/>
<circle cx="121.5" cy="377.5" r="2.65"/>
<circle cx="123.6" cy="377.8" r="2.65"/>
<circle cx="125.9" cy="376.9" r="2.65"/>
<circle cx="129.2" cy="374.0" r="2.65"/>
<circle cx="132.5" cy="373.8" r="2.65"/>
<circle cx="130.9" cy="377.5" r="2.65"/>
<circle cx="134.6" cy="358.5" r="2.65"/>
<circle cx="136.8" cy="355.9" r="2.65"/>
<circle cx="138.4" cy="358.8" r="2.65"/>
<circle cx="146.8" cy="354.5" r="2.65"/>
<circle cx="149.6" cy="360.8" r="2.65"/>
<circle cx="153.8" cy="358.1" r="2.65"/>
<circle cx="155.5" cy="360.6" r="2.65"/>
<circle cx="159.6" cy="358.5" r="2.65"/>
<circle cx="160.9" cy="354.8" r="2.65"/>
<circle cx="162.8" cy="352.5" r="2.65"/>
<circle cx="165.2" cy="359.1" r="2.65"/>
<circle cx="167.1" cy="354.4" r="2.65"/>
<circle cx="177.1" cy="355.9" r="2.65"/>
<circle cx="175.2" cy="361.0" r="2.65"/>
<circle cx="179.0" cy="359.4" r="2.65"/>
<circle cx="179.6" cy="370.6" r="2.65"/>
<circle cx="145.2" cy="377.2" r="2.65"/>
<circle cx="152.5" cy="378.2" r="2.65"/>
<circle cx="156.9" cy="373.2" r="2.65"/>
<circle cx="164.0" cy="378.8" r="2.65"/>
<circle cx="168.4" cy="374.0" r="2.65"/>
<circle cx="210.0" cy="355.0" r="2.65"/>
<circle cx="217.2" cy="359.4" r="2.65"/>
<circle cx="204.4" cy="359.0" r="2.65"/>
<circle cx="198.6" cy="357.9" r="2.65"/>
<circle cx="194.2" cy="359.0" r="2.65"/>
<circle cx="182.9" cy="364.4" r="2.65"/>
<circle cx="189.8" cy="366.9" r="2.65"/>
<circle cx="184.4" cy="370.9" r="2.65"/>
<circle cx="200.1" cy="372.1" r="2.65"/>
<circle cx="202.9" cy="377.9" r="2.65"/>
<circle cx="214.4" cy="370.9" r="2.65"/>
<circle cx="220.0" cy="373.5" r="2.65"/>
<circle cx="221.6" cy="376.9" r="2.65"/>
<circle cx="227.2" cy="377.9" r="2.65"/>
<circle cx="230.0" cy="377.2" r="2.65"/>
<circle cx="232.9" cy="377.5" r="2.65"/>
<circle cx="234.6" cy="371.5" r="2.65"/>
<circle cx="236.6" cy="376.9" r="2.65"/>
<circle cx="238.5" cy="378.8" r="2.65"/>
<circle cx="243.1" cy="373.2" r="2.65"/>
<circle cx="244.8" cy="366.9" r="2.65"/>
<circle cx="247.5" cy="376.9" r="2.65"/>
<circle cx="252.0" cy="378.8" r="2.65"/>
<circle cx="259.1" cy="377.5" r="2.65"/>
<circle cx="263.5" cy="377.5" r="2.65"/>
<circle cx="265.4" cy="377.5" r="2.65"/>
<circle cx="246.0" cy="357.5" r="2.65"/>
<circle cx="250.6" cy="356.0" r="2.65"/>
<circle cx="256.0" cy="356.2" r="2.65"/>
<circle cx="257.9" cy="356.9" r="2.65"/>
<circle cx="261.0" cy="358.5" r="2.65"/>
<circle cx="270.8" cy="358.1" r="2.65"/>
<circle cx="176.0" cy="349.0" r="2.65"/>
<circle cx="279.2" cy="356.9" r="2.65"/>
<circle cx="282.4" cy="356.0" r="2.65"/>
<circle cx="287.8" cy="357.2" r="2.65"/>
<circle cx="292.4" cy="358.8" r="2.65"/>
<circle cx="283.6" cy="362.5" r="2.65"/>
<circle cx="277.8" cy="368.1" r="2.65"/>
<circle cx="276.1" cy="373.1" r="2.65"/>
<circle cx="274.5" cy="378.1" r="2.65"/>
<circle cx="280.5" cy="378.1" r="2.65"/>
<circle cx="286.4" cy="377.8" r="2.65"/>
<circle cx="290.8" cy="373.8" r="2.65"/>
<circle cx="293.6" cy="377.2" r="2.65"/>
<circle cx="298.0" cy="378.8" r="2.65"/>
<circle cx="303.9" cy="376.9" r="2.65"/>
<circle cx="302.4" cy="356.6" r="2.65"/>
<circle cx="307.4" cy="359.4" r="2.65"/>
<circle cx="309.9" cy="358.1" r="2.65"/>
<circle cx="299.2" cy="363.8" r="2.65"/>
<circle cx="308.0" cy="364.0" r="2.65"/>
<circle cx="305.2" cy="368.5" r="2.65"/>
<circle cx="300.8" cy="370.6" r="2.65"/>
<circle cx="318.0" cy="360.0" r="2.65"/>
<circle cx="322.4" cy="355.6" r="2.65"/>
<circle cx="325.2" cy="357.2" r="2.65"/>
<circle cx="329.6" cy="362.5" r="2.65"/>
<circle cx="323.8" cy="369.6" r="2.65"/>
<circle cx="316.8" cy="371.0" r="2.65"/>
<circle cx="319.5" cy="376.2" r="2.65"/>
<circle cx="313.6" cy="377.5" r="2.65"/>
<circle cx="332.4" cy="371.9" r="2.65"/>
<circle cx="334.0" cy="374.0" r="2.65"/>
<circle cx="338.2" cy="377.5" r="2.65"/>
<circle cx="339.5" cy="371.9" r="2.65"/>
<circle cx="340.9" cy="368.1" r="2.65"/>
<circle cx="344.0" cy="363.1" r="2.65"/>
<circle cx="355.5" cy="371.2" r="2.65"/>
<circle cx="358.2" cy="370.0" r="2.65"/>
<circle cx="360.5" cy="371.9" r="2.65"/>
<circle cx="363.6" cy="371.9" r="2.65"/>
<circle cx="390.0" cy="361.6" r="2.65"/>
<circle cx="371.2" cy="360.9" r="2.65"/>
<circle cx="376.0" cy="360.2" r="2.65"/>
<circle cx="401.9" cy="357.2" r="2.65"/>
<circle cx="378.8" cy="371.2" r="2.65"/>
<circle cx="381.5" cy="371.2" r="2.65"/>
<circle cx="403.1" cy="371.2" r="2.65"/>
<circle cx="405.0" cy="371.0" r="2.65"/>
<circle cx="407.5" cy="371.9" r="2.65"/>
<circle cx="410.2" cy="366.9" r="2.65"/>
<circle cx="413.5" cy="365.6" r="2.65"/>
<circle cx="421.6" cy="371.2" r="2.65"/>
<circle cx="424.4" cy="371.9" r="2.65"/>
<circle cx="426.2" cy="371.0" r="2.65"/>
<circle cx="428.8" cy="368.8" r="2.65"/>
<circle cx="430.6" cy="370.6" r="2.65"/>
<circle cx="433.8" cy="371.5" r="2.65"/>
<circle cx="436.0" cy="364.4" r="2.65"/>
<circle cx="437.8" cy="371.9" r="2.65"/>
<circle cx="439.4" cy="369.4" r="2.65"/>
<circle cx="440.6" cy="363.1" r="2.65"/>
<circle cx="443.5" cy="366.5" r="2.65"/>
<circle cx="445.0" cy="370.0" r="2.65"/>
<circle cx="446.9" cy="371.2" r="2.65"/>
<circle cx="450.9" cy="371.2" r="2.65"/>
<circle cx="451.9" cy="362.8" r="2.65"/>
<circle cx="453.8" cy="366.9" r="2.65"/>
<circle cx="465.1" cy="358.8" r="2.65"/>
<circle cx="470.8" cy="361.2" r="2.65"/>
<circle cx="473.9" cy="361.9" r="2.65"/>
<circle cx="489.8" cy="360.0" r="2.65"/>
<circle cx="499.5" cy="360.6" r="2.65"/>
<circle cx="496.4" cy="362.8" r="2.65"/>
<circle cx="492.4" cy="366.5" r="2.65"/>
<circle cx="495.1" cy="371.2" r="2.65"/>
<circle cx="500.8" cy="369.4" r="2.65"/>
<circle cx="502.6" cy="372.8" r="2.65"/>
<circle cx="506.0" cy="371.2" r="2.65"/>
<circle cx="508.2" cy="366.5" r="2.65"/>
<circle cx="511.0" cy="371.2" r="2.65"/>
<circle cx="513.9" cy="371.0" r="2.65"/>
<circle cx="515.8" cy="371.2" r="2.65"/>
<circle cx="527.0" cy="371.2" r="2.65"/>
<circle cx="537.0" cy="371.2" r="2.65"/>
<circle cx="531.1" cy="360.0" r="2.65"/>
<circle cx="544.8" cy="360.6" r="2.65"/>
<circle cx="547.0" cy="358.1" r="2.65"/>
<circle cx="548.0" cy="373.1" r="2.65"/>
<circle cx="456.8" cy="362.5" r="2.65"/>
<circle cx="457.6" cy="370.0" r="2.65"/>
<circle cx="467.9" cy="371.9" r="2.65"/>
<circle cx="475.1" cy="372.2" r="2.65"/>
<circle cx="626.5" cy="361.5" r="2.65"/>
<circle cx="620.5" cy="363.1" r="2.65"/>
<circle cx="614.9" cy="362.5" r="2.65"/>
<circle cx="551.5" cy="368.5" r="2.65"/>
<circle cx="553.4" cy="372.2" r="2.65"/>
<circle cx="555.9" cy="372.5" r="2.65"/>
<circle cx="558.4" cy="371.9" r="2.65"/>
<circle cx="560.2" cy="369.4" r="2.65"/>
<circle cx="562.8" cy="373.1" r="2.65"/>
<circle cx="565.2" cy="371.9" r="2.65"/>
<circle cx="567.8" cy="369.4" r="2.65"/>
<circle cx="570.2" cy="373.8" r="2.65"/>
<circle cx="572.8" cy="371.9" r="2.65"/>
<circle cx="575.0" cy="371.9" r="2.65"/>
<circle cx="581.5" cy="372.2" r="2.65"/>
<circle cx="583.4" cy="369.4" r="2.65"/>
<circle cx="585.9" cy="369.4" r="2.65"/>
<circle cx="587.1" cy="373.8" r="2.65"/>
<circle cx="589.6" cy="371.9" r="2.65"/>
<circle cx="592.1" cy="372.2" r="2.65"/>
<circle cx="594.6" cy="372.5" r="2.65"/>
<circle cx="596.5" cy="373.5" r="2.65"/>
<circle cx="597.8" cy="369.4" r="2.65"/>
<circle cx="600.2" cy="371.9" r="2.65"/>
<circle cx="601.8" cy="367.2" r="2.65"/>
<circle cx="604.6" cy="373.5" r="2.65"/>
<circle cx="606.1" cy="369.0" r="2.65"/>
<circle cx="609.0" cy="371.2" r="2.65"/>
<circle cx="616.2" cy="368.8" r="2.65"/>
<circle cx="617.8" cy="371.9" r="2.65"/>
<circle cx="619.0" cy="372.8" r="2.65"/>
<circle cx="625.0" cy="370.0" r="2.65"/>
<circle cx="630.5" cy="371.2" r="2.65"/>
<circle cx="633.4" cy="372.8" r="2.65"/>
<circle cx="635.0" cy="373.1" r="2.65"/>
<circle cx="637.1" cy="369.4" r="2.65"/>
<circle cx="639.6" cy="366.2" r="2.65"/>
<circle cx="660.8" cy="361.9" r="2.65"/>
<circle cx="666.6" cy="361.5" r="2.65"/>
<circle cx="647.9" cy="361.9" r="2.65"/>
<circle cx="642.2" cy="363.1" r="2.65"/>
<circle cx="645.4" cy="365.6" r="2.65"/>
<circle cx="643.5" cy="366.9" r="2.65"/>
<circle cx="651.0" cy="371.5" r="2.65"/>
<circle cx="652.2" cy="371.5" r="2.65"/>
<circle cx="663.8" cy="372.5" r="2.65"/>
<circle cx="665.4" cy="370.6" r="2.65"/>
<circle cx="669.5" cy="369.8" r="2.65"/>
<circle cx="672.2" cy="373.8" r="2.65"/>
<circle cx="674.1" cy="369.8" r="2.65"/>
<circle cx="675.8" cy="372.2" r="2.65"/>
<circle cx="682.5" cy="370.6" r="2.65"/>
<circle cx="684.1" cy="373.5" r="2.65"/>
<circle cx="687.0" cy="369.0" r="2.65"/>
<circle cx="692.9" cy="373.8" r="2.65"/>
<circle cx="699.8" cy="371.2" r="2.65"/>
<circle cx="707.0" cy="371.0" r="2.65"/>
<circle cx="708.5" cy="373.1" r="2.65"/>
<circle cx="712.9" cy="361.9" r="2.65"/>
<circle cx="724.4" cy="363.1" r="2.65"/>
<circle cx="722.9" cy="367.5" r="2.65"/>
</g>
<path class="th" d="M57.1 241.40H761.0"/>
</g>
<text class="st" x="63.0" y="227.65">Standard deviation rule: 0% of cases would have been removed</text>
<text class="ax" x="50.3" y="376.6" text-anchor="end">1000</text>
<text class="ax" x="50.3" y="337.9" text-anchor="end">2000</text>
<text class="ax" x="50.3" y="299.3" text-anchor="end">3000</text>
<text class="ax" x="50.3" y="260.6" text-anchor="end">4000</text>
<path class="tk" d="M53.43 372.40H57.1M53.43 333.73H57.1M53.43 295.07H57.1M53.43 256.40H57.1"/>
<text class="ax" x="87.72" y="400.5" text-anchor="middle">0</text>
<text class="ax" x="231.80" y="400.5" text-anchor="middle">100</text>
<text class="ax" x="375.88" y="400.5" text-anchor="middle">200</text>
<text class="ax" x="519.96" y="400.5" text-anchor="middle">300</text>
<text class="ax" x="664.04" y="400.5" text-anchor="middle">400</text>
<path class="tk" d="M87.72 385.75V389.42M231.80 385.75V389.42M375.88 385.75V389.42M519.96 385.75V389.42M664.04 385.75V389.42"/>
<text class="ti" x="409.1" y="417.7" text-anchor="middle">Row index</text>
<text class="ti" transform="translate(17.4 219.7) rotate(-90)" text-anchor="middle">Counterfactual uncertainty</text>
<rect x="349" y="441.8" width="23.04" height="23.04" fill="#EFEFEF"/>
<path class="th" d="M351.3 453.4H369.7"/>
<text x="379" y="458.5" font-size="11.73" fill="#000">Removal threshold</text>
</svg></body></html>
